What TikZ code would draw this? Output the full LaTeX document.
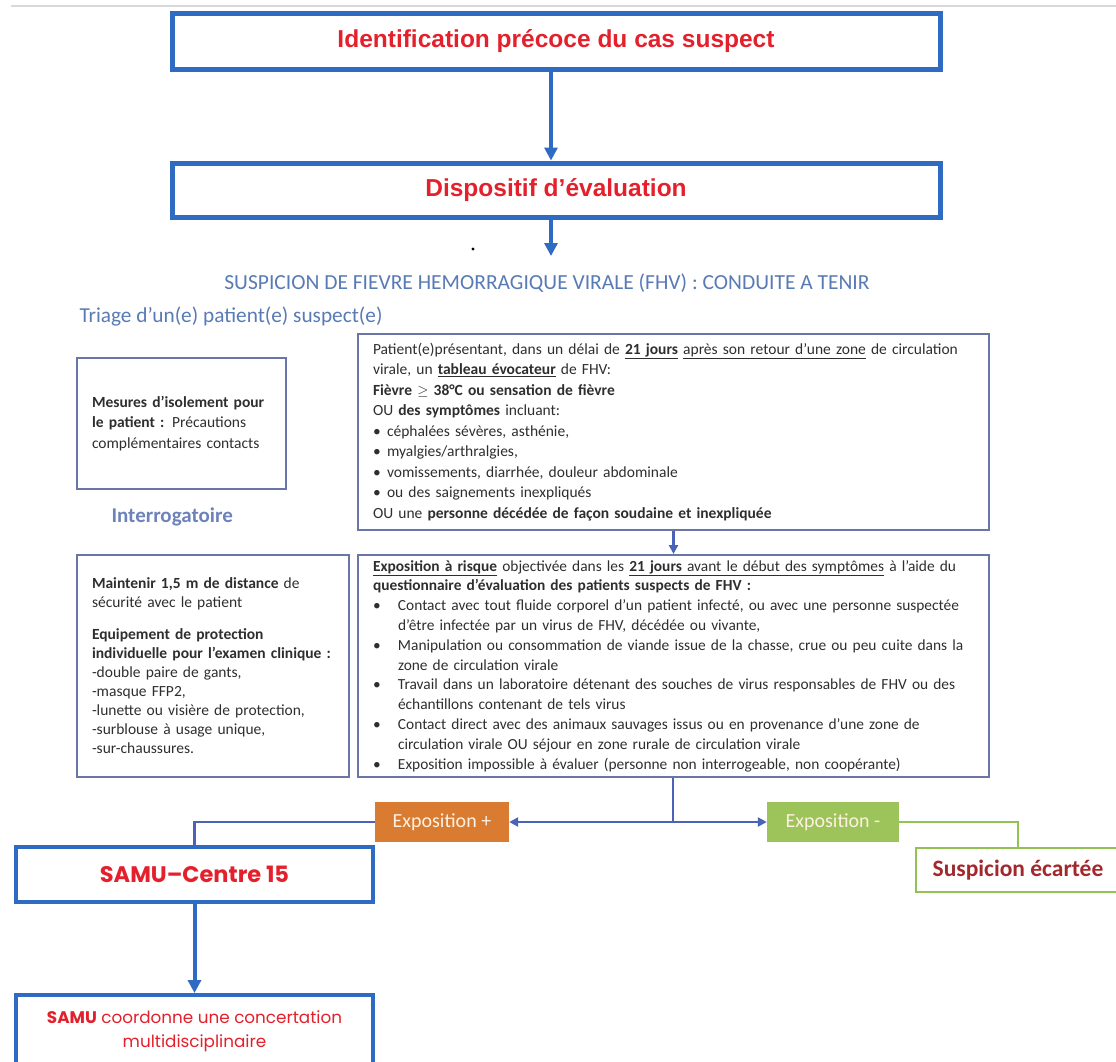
\documentclass[tikz,border=0pt]{standalone}
\usepackage{fontspec}
\setmainfont{Carlito}
\newfontfamily\arialfont{Liberation Sans}
\newfontfamily\popfont{Poppins}
\usetikzlibrary{arrows.meta}

\definecolor{boxblue}{HTML}{2F6BC2}
\definecolor{alertred}{HTML}{E3202B}
\definecolor{framegrey}{HTML}{6B76A8}
\definecolor{linkblue}{HTML}{4A62B8}
\definecolor{titleblue}{HTML}{587AB5}
\definecolor{labelblue}{HTML}{6C82B8}
\definecolor{expoorange}{HTML}{D97C32}
\definecolor{expogreen}{HTML}{9CC45B}
\definecolor{lightgreen}{HTML}{92C352}
\definecolor{darkred}{HTML}{A3282E}
\definecolor{bodytext}{HTML}{2E2E2E}

\tikzset{
  bigbox/.style={draw=boxblue, line width=5pt, minimum width=768pt, minimum height=56pt,
    text=alertred, font=\arialfont\bfseries\fontsize{24.5}{28}\selectfont},
  samubox/.style={draw=boxblue, line width=4pt, minimum width=357pt, text=alertred},
  infobox/.style={draw=framegrey, line width=2pt, text=bodytext, align=left,
    inner xsep=15pt, font=\fontsize{15.5}{20.5}\selectfont},
  expobox/.style={minimum width=134pt, minimum height=40pt, text=white!88!orange,
    font=\fontsize{20}{22}\selectfont},
  toparrow/.style={draw=boxblue, line width=4pt, -{Triangle[length=13pt,width=13pt]}},
  midline/.style={draw=linkblue, line width=2.5pt},
  midarrow/.style={midline, -{Triangle[length=9pt,width=9pt]}},
  greenline/.style={draw=lightgreen, line width=2.5pt}
}
\newcommand{\bul}{\makebox[14pt][l]{\textbullet}}
\newcommand{\bull}{\makebox[25pt][l]{\textbullet}}

\begin{document}
\begin{tikzpicture}[x=1pt,y=-1pt]
  \useasboundingbox (0,0) rectangle (1116,1061);
  \clip (0,0) rectangle (1116,1061);
  \draw[black!15, line width=1.5pt] (11,6) -- (1116,6);

  \node (ident) at (556,41) [bigbox]{Identification précoce du cas suspect};
  \node (dispo) at (556,190) [bigbox, minimum height=54pt]{Dispositif d’évaluation};
  \node (titre) at (547,283) [text=titleblue, font=\fontsize{21.5}{24}\selectfont]
    {SUSPICION DE FIEVRE HEMORRAGIQUE VIRALE (FHV) : CONDUITE A TENIR};
  \coordinate (tip) at (551,256);
  \fill (473,249) circle (1.6);

  \node (triage) at (76,317) [anchor=west, text=titleblue, font=\fontsize{21.3}{24}\selectfont]
    {Triage d’un(e) patient(e) suspect(e)};
  \node (interro) at (108,517) [anchor=west, text=labelblue, font=\bfseries\fontsize{21}{24}\selectfont]
    {Interrogatoire};

  \node (isol) at (181.5,423.5) [infobox, text width=179pt, minimum height=131pt]
    {\textbf{Mesures d’isolement pour}\\
     \textbf{le patient :} Précautions\\
     complémentaires contacts};

  \node (sympt) at (673.5,432) [infobox, text width=601pt, minimum height=196pt]
    {Patient(e)présentant, dans un délai de \underline{\textbf{21 jours}} \underline{après son retour d’une zone} de circulation\\
     virale, un \underline{\textbf{tableau évocateur}} de FHV:\\
     \textbf{Fièvre $\geq$ 38°C ou sensation de fièvre}\\
     OU \textbf{des symptômes} incluant:\\
     \bul céphalées sévères, asthénie,\\
     \bul myalgies/arthralgies,\\
     \bul vomissements, diarrhée, douleur abdominale\\
     \bul ou des saignements inexpliqués\\
     OU une \textbf{personne décédée de façon soudaine et inexpliquée}};

  \node (protec) at (213,666) [infobox, text width=242pt, minimum height=222pt,
    font=\fontsize{15.5}{19}\selectfont]
    {\textbf{Maintenir 1,5 m de distance} de\\
     sécurité avec le patient\\[13pt]
     \textbf{Equipement de protection}\\
     \mbox{\textbf{individuelle pour l’examen clinique :}}\\
     -double paire de gants,\\
     -masque FFP2,\\
     -lunette ou visière de protection,\\
     -surblouse à usage unique,\\
     -sur-chaussures.};

  \node (expo) at (673.5,666) [infobox, text width=601pt, minimum height=222pt,
    font=\fontsize{15.4}{19.8}\selectfont]
    {\underline{\textbf{Exposition à risque}} objectivée dans les \underline{\textbf{21 jours} avant le début des symptômes} à l’aide du\\
     \textbf{questionnaire d’évaluation des patients suspects de FHV :}\\
     \bull Contact avec tout fluide corporel d’un patient infecté, ou avec une personne suspectée\\
     \hspace*{25pt}d’être infectée par un virus de FHV, décédée ou vivante,\\
     \bull Manipulation ou consommation de viande issue de la chasse, crue ou peu cuite dans la\\
     \hspace*{25pt}zone de circulation virale\\
     \bull Travail dans un laboratoire détenant des souches de virus responsables de FHV ou des\\
     \hspace*{25pt}échantillons contenant de tels virus\\
     \bull Contact direct avec des animaux sauvages issus ou en provenance d’une zone de\\
     \hspace*{25pt}circulation virale OU séjour en zone rurale de circulation virale\\
     \bull Exposition impossible à évaluer (personne non interrogeable, non coopérante)};

  \node (plus) at (442,822) [expobox, fill=expoorange]{Exposition +};
  \node (minus) at (833,822) [expobox, fill=expogreen, minimum width=132pt]{Exposition -};
  \coordinate (split) at (673,822);

  \node (samu) at (194.5,874.5) [samubox, minimum height=55pt,
    font=\popfont\bfseries\fontsize{22.5}{26}\selectfont]{SAMU–Centre 15};
  \node (concert) at (194.5,1031.5) [samubox, minimum height=73pt, align=center,
    font=\popfont\fontsize{16.8}{24}\selectfont]
    {\textbf{SAMU} coordonne une concertation\\multidisciplinaire};
  \node (ecart) at (1018,870) [draw=lightgreen, line width=2.5pt, minimum width=204pt,
    minimum height=44pt, text=darkred, font=\bfseries\fontsize{23.5}{26}\selectfont]
    {Suspicion écartée};

  \draw[toparrow] (ident.south -| tip) -- (dispo.north -| tip);
  \draw[toparrow] (dispo.south -| tip) -- (tip);

  \draw[midarrow] (sympt) -- (expo);
  \draw[midline] (expo.south -| split) -- (split);
  \draw[midarrow] (split) -- (plus.east);
  \draw[midarrow] (split) -- (minus.west);

  \draw[midline] (plus.west) -| (samu.north);
  \draw[toparrow] (samu) -- (concert);
  \draw[greenline] (minus.east) -| (ecart.north);

\end{tikzpicture}
\end{document}
